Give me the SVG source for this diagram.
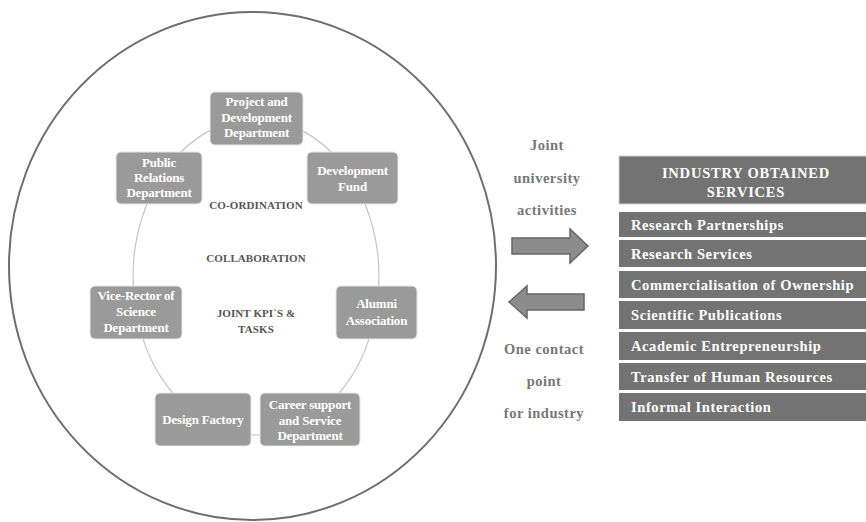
<svg xmlns="http://www.w3.org/2000/svg" width="866" height="522" viewBox="0 0 866 522">
<style>
.node rect{fill:#9a9a9a;stroke:#e6e6e6;stroke-width:1}
.nt{font-family:"Liberation Serif","Times New Roman",serif;font-weight:bold;font-size:13px;fill:#ffffff;text-anchor:middle;letter-spacing:-0.2px}
.ct{font-family:"Liberation Serif","Times New Roman",serif;font-weight:bold;font-size:11px;fill:#555555;text-anchor:middle;letter-spacing:0.1px}
.lt{font-family:"Liberation Serif","Times New Roman",serif;font-weight:bold;font-size:14.5px;fill:#777777;text-anchor:middle;letter-spacing:0.5px}
.srv rect{fill:#737373}
.st{font-family:"Liberation Serif","Times New Roman",serif;font-weight:bold;font-size:14.5px;fill:#ffffff;letter-spacing:0.6px}
.ht{font-family:"Liberation Serif","Times New Roman",serif;font-weight:bold;font-size:14.5px;fill:#ffffff;text-anchor:middle;letter-spacing:0.8px}
.arrow{fill:#8c8c8c;stroke:#666666;stroke-width:1.5;stroke-linejoin:miter}
</style>
<rect width="866" height="522" fill="#ffffff"/>
<ellipse id="outer-circle" cx="252.5" cy="266" rx="243.5" ry="254" fill="none" stroke="#6e6e6e" stroke-width="2"/>
<g id="connectors">
<ellipse cx="256" cy="277" rx="123" ry="158" fill="none" stroke="#c4c4c4" stroke-width="1.2"/>
<path class="arrow" d="M512,238 L570,238 L570,229 L588,246 L570,263 L570,254 L512,254 Z"/>
<path class="arrow" d="M584,294 L527,294 L527,286 L509,302 L527,318 L527,310 L584,310 Z"/>
</g>
<g id="node-project" class="node">
<rect x="210" y="92" width="93" height="53" rx="5"/>
<text class="nt" x="256.5" y="106">Project and</text>
<text class="nt" x="256.5" y="122">Development</text>
<text class="nt" x="256.5" y="137">Department</text>
</g>
<g id="node-pr" class="node">
<rect x="116" y="152" width="86" height="52" rx="5"/>
<text class="nt" x="159" y="167">Public</text>
<text class="nt" x="159" y="182">Relations</text>
<text class="nt" x="159" y="197">Department</text>
</g>
<g id="node-devfund" class="node">
<rect x="307" y="152" width="91" height="52" rx="5"/>
<text class="nt" x="352.5" y="175">Development</text>
<text class="nt" x="352.5" y="191">Fund</text>
</g>
<g id="node-vicerector" class="node">
<rect x="90" y="286" width="92" height="53" rx="5"/>
<text class="nt" x="136" y="300">Vice-Rector of</text>
<text class="nt" x="136" y="316">Science</text>
<text class="nt" x="136" y="332">Department</text>
</g>
<g id="node-alumni" class="node">
<rect x="336" y="286" width="81" height="53" rx="5"/>
<text class="nt" x="376.5" y="308">Alumni</text>
<text class="nt" x="376.5" y="325">Association</text>
</g>
<g id="node-design" class="node">
<rect x="155" y="393" width="96" height="53" rx="5"/>
<text class="nt" x="203" y="424">Design Factory</text>
</g>
<g id="node-career" class="node">
<rect x="260" y="393" width="100" height="53" rx="5"/>
<text class="nt" x="310" y="409">Career support</text>
<text class="nt" x="310" y="425">and Service</text>
<text class="nt" x="310" y="440">Department</text>
</g>
<g id="center-labels">
<text class="ct" x="256" y="209">CO-ORDINATION</text>
<text class="ct" x="256" y="262">COLLABORATION</text>
<text class="ct" x="256" y="317">JOINT KPI`S &amp;</text>
<text class="ct" x="256" y="333">TASKS</text>
</g>
<g id="side-labels">
<text class="lt" x="547" y="150">Joint</text>
<text class="lt" x="547" y="183">university</text>
<text class="lt" x="547" y="215">activities</text>
<text class="lt" x="544" y="354">One contact</text>
<text class="lt" x="544" y="386">point</text>
<text class="lt" x="544" y="418">for industry</text>
</g>
<g id="services" class="srv">
<rect x="619" y="156" width="250" height="48" stroke="#d0d0d0" stroke-width="1"/>
<text class="ht" x="746" y="178">INDUSTRY OBTAINED</text>
<text class="ht" x="746" y="197">SERVICES</text>
<rect x="619" y="212" width="250" height="25"/>
<text class="st" x="631" y="230">Research Partnerships</text>
<rect x="619" y="240" width="250" height="27"/>
<text class="st" x="631" y="259">Research Services</text>
<rect x="619" y="271" width="250" height="27"/>
<text class="st" x="631" y="290">Commercialisation of Ownership</text>
<rect x="619" y="301" width="250" height="28"/>
<text class="st" x="631" y="320">Scientific Publications</text>
<rect x="619" y="332" width="250" height="28"/>
<text class="st" x="631" y="351">Academic Entrepreneurship</text>
<rect x="619" y="363" width="250" height="27"/>
<text class="st" x="631" y="382">Transfer of Human Resources</text>
<rect x="619" y="393" width="250" height="28"/>
<text class="st" x="631" y="412">Informal Interaction</text>
</g>
</svg>
